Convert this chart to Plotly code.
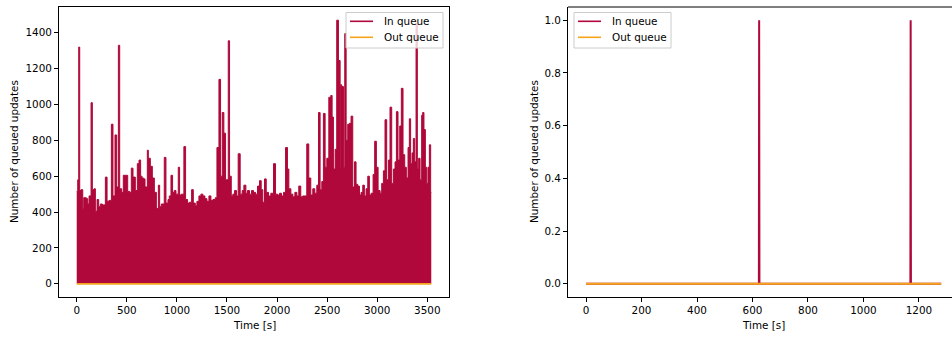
import plotly.graph_objects as go

# ---- Left panel: in-queue envelope (time [s], queued updates) ----
left_time = [0, 10, 20, 30, 43, 60, 70, 96, 110, 123, 143, 156, 173, 186, 203, 219, 236, 256,
             286, 303, 322, 346, 362, 382, 399, 416, 429, 449, 465, 489, 509, 529, 545, 562,
             585, 605, 622, 638, 652, 668, 682, 705, 715, 735, 755, 775, 795, 815, 828, 844,
             874, 891, 911, 924, 941, 957, 974, 991, 1014, 1027, 1044, 1070, 1087, 1107, 1124,
             1147, 1164, 1184, 1200, 1220, 1240, 1260, 1280, 1300, 1320, 1340, 1360, 1383, 1400,
             1420, 1436, 1453, 1469, 1486, 1513, 1526, 1543, 1559, 1576, 1596, 1612, 1632, 1652,
             1669, 1689, 1705, 1725, 1745, 1765, 1785, 1805, 1825, 1842, 1858, 1875, 1892, 1915,
             1938, 1965, 1985, 2005, 2025, 2045, 2065, 2085, 2104, 2118, 2138, 2158, 2178, 2198,
             2217, 2237, 2257, 2277, 2297, 2317, 2337, 2357, 2377, 2397, 2414, 2430, 2447, 2463,
             2480, 2497, 2517, 2537, 2550, 2563, 2580, 2596, 2613, 2630, 2636, 2646, 2663, 2676,
             2690, 2706, 2723, 2739, 2756, 2773, 2789, 2806, 2823, 2839, 2856, 2872, 2889, 2906,
             2922, 2939, 2959, 2975, 2992, 3009, 3029, 3045, 3062, 3078, 3095, 3112, 3128, 3145,
             3162, 3178, 3192, 3208, 3225, 3241, 3258, 3275, 3291, 3308, 3321, 3334, 3348, 3361,
             3374, 3388, 3401, 3414, 3428, 3444, 3454, 3467, 3481, 3494, 3507, 3521, 3534, 3540]
left_in = [515, 580, 1320, 520, 525, 420, 480, 475, 445, 490, 1010, 525, 530, 405, 470, 430, 445, 440,
           595, 460, 465, 890, 490, 830, 540, 1330, 530, 510, 605, 605, 515, 510, 645, 595,
           520, 670, 690, 600, 590, 585, 540, 745, 700, 655, 590, 510, 420, 550, 430, 445,
           705, 450, 470, 490, 605, 510, 520, 500, 650, 495, 500, 765, 470, 450, 455,
           525, 450, 435, 460, 490, 500, 490, 475, 460, 490, 465, 470, 480, 760,
           1140, 600, 955, 840, 580, 1355, 600, 490, 500, 520, 490, 725, 500, 520,
           550, 505, 520, 500, 520, 510, 500, 545, 575, 525, 455, 585, 510, 490,
           505, 670, 500, 495, 505, 490, 510, 760, 640, 530, 500, 485, 510, 490,
           545, 485, 490, 490, 780, 590, 495, 530, 505, 550, 955, 525, 570, 950,
           650, 700, 1040, 1050, 930, 640, 750, 1470, 1245, 650, 1110, 1100, 650, 1395,
           800, 890, 895, 935, 540, 680, 555, 545, 495, 510, 550, 490, 530, 600,
           495, 505, 610, 795, 650, 520, 505, 560, 630, 915, 580, 690, 985, 560,
           640, 680, 960, 690, 880, 1090, 720, 650, 590, 760, 920, 670, 730, 810,
           680, 1450, 640, 700, 580, 940, 955, 860, 650, 560, 650, 775, 510, 510]
left_out_time = [0, 3540]
left_out = [0, 0]

# ---- Right panel ----
right_time = [0, 623, 624, 625, 1169, 1170, 1171, 1280]
right_in = [0, 0, 1, 0, 0, 1, 0, 0]
right_out_time = [0, 1280]
right_out = [0, 0]

left_xticks = [0, 500, 1000, 1500, 2000, 2500, 3000, 3500]
left_yticks = [0, 200, 400, 600, 800, 1000, 1200, 1400]
right_xticks = [0, 200, 400, 600, 800, 1000, 1200]
right_yticks = [0.0, 0.2, 0.4, 0.6, 0.8, 1.0]
series_names = ["In queue", "Out queue"]

RED = "#B0083A"
ORANGE = "#F4A51C"
FONT = "DejaVu Sans"
FS = 10.4
W, H = 952, 338


def px(x):
    return x / W


def py(y):
    return (H - y) / H


fig = go.Figure()
fig.add_trace(go.Scatter(x=left_time, y=left_in, mode="lines", line=dict(color=RED, width=1, shape="hv"),
                         fill="tozeroy", fillcolor=RED, showlegend=False, xaxis="x", yaxis="y"))
fig.add_trace(go.Scatter(x=left_out_time, y=left_out, mode="lines", line=dict(color=ORANGE, width=1.8),
                         showlegend=False, xaxis="x", yaxis="y"))
fig.add_trace(go.Scatter(x=right_time, y=right_in, mode="lines", line=dict(color=RED, width=2),
                         showlegend=False, xaxis="x2", yaxis="y2"))
fig.add_trace(go.Scatter(x=right_out_time, y=right_out, mode="lines", line=dict(color=ORANGE, width=2),
                         showlegend=False, xaxis="x2", yaxis="y2"))

ydom = [py(297), py(7)]
axis_common = dict(showgrid=False, zeroline=False, ticks="outside", ticklen=4, tickwidth=1,
                   tickcolor="black", linecolor="black", linewidth=1, showline=True,
                   tickfont=dict(family=FONT, size=FS, color="black"))

fig.update_layout(
    width=W, height=H, margin=dict(l=0, r=0, t=0, b=0),
    paper_bgcolor="white", plot_bgcolor="white", showlegend=False,
    font=dict(family=FONT, size=FS, color="black"),
    xaxis=dict(domain=[px(59), px(449)], range=[-177, 3717], tickvals=left_xticks, mirror=True,
               anchor="y", **axis_common),
    yaxis=dict(domain=ydom, range=[-73.5, 1543.5], tickvals=left_yticks, mirror=True,
               anchor="x", **axis_common),
    xaxis2=dict(domain=[px(568), 1.0], range=[-64.9, 1319], tickvals=right_xticks, mirror=False,
                anchor="y2", **axis_common),
    yaxis2=dict(domain=ydom, range=[-0.05, 1.05], tickvals=right_yticks, tickformat=".1f",
                mirror=False, anchor="x2", **axis_common),
)

# top spine for right panel
fig.add_shape(type="line", xref="paper", yref="paper", x0=px(568), x1=1.0, y0=ydom[1], y1=ydom[1],
              line=dict(color="black", width=1))

# custom legends (matplotlib-like)
for (bx0, bx1, hx0, hx1, tx) in [(346, 443, 350, 373, 381.5), (574, 671, 578, 601, 609.5)]:
    fig.add_shape(type="rect", xref="paper", yref="paper", x0=px(bx0), x1=px(bx1), y0=py(48), y1=py(12.5),
                  fillcolor="rgba(255,255,255,0.8)", line=dict(color="#cccccc", width=1), layer="above")
    for name, color, yy in [(series_names[0], RED, 21.3), (series_names[1], ORANGE, 37.3)]:
        fig.add_shape(type="line", xref="paper", yref="paper", x0=px(hx0), x1=px(hx1), y0=py(yy), y1=py(yy),
                      line=dict(color=color, width=1.6), layer="above")
        fig.add_annotation(text=name, x=px(tx), y=py(yy), xref="paper", yref="paper", showarrow=False,
                           xanchor="left", yanchor="middle", font=dict(family=FONT, size=FS, color="black"))

# axis titles
for xc, xl in [(254, 14), (763, 534)]:
    fig.add_annotation(text="Time [s]", x=px(xc), y=py(325), xref="paper", yref="paper",
                       showarrow=False, font=dict(family=FONT, size=FS), xanchor="center", yanchor="middle")
    fig.add_annotation(text="Number of queued updates", x=px(xl), y=py(152), xref="paper", yref="paper",
                       showarrow=False, textangle=-90, font=dict(family=FONT, size=FS),
                       xanchor="center", yanchor="middle")

fig.write_html("out.html")
